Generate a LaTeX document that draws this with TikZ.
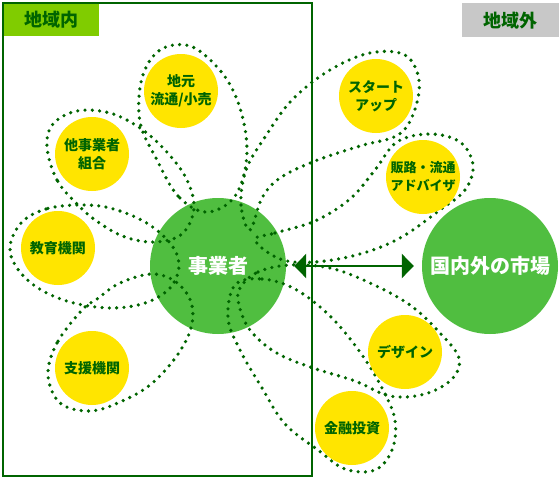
\documentclass[tikz,border=0pt]{standalone}
\usepackage{fontspec}
\newfontfamily\jp{Noto Sans CJK JP}
\usetikzlibrary{arrows.meta}
\definecolor{dgreen}{RGB}{0,100,0}
\definecolor{lgreen}{RGB}{80,190,64}
\definecolor{ylw}{RGB}{255,229,0}
\definecolor{tabgreen}{RGB}{128,204,0}
\definecolor{tabgray}{RGB}{200,200,200}
\tikzset{
  petal/.style={draw=dgreen, line width=3.6pt, line cap=round, dash pattern=on 0pt off 7.3pt},
  ycirc/.style={circle, fill=ylw, minimum size=74pt, inner sep=0pt, text=dgreen, align=center,
    font=\jp\bfseries\fontsize{14}{18}\selectfont},
  gcirc/.style={circle, fill=lgreen, minimum size=136pt, inner sep=0pt},
  gtext/.style={text=white, font=\jp\bfseries\fontsize{20}{24}\selectfont, inner sep=0pt},
  tab/.style={anchor=north west, inner sep=0pt, text=dgreen, font=\jp\bfseries\fontsize{18}{20}\selectfont},
  bothway/.style={draw=dgreen, line width=2.5pt, {Triangle[length=12pt,width=24pt]}-{Triangle[length=12pt,width=24pt]}, shorten <=8pt, shorten >=8pt}
}
\begin{document}
\begin{tikzpicture}[x=1pt,y=-1pt]
\fill[white] (0,0) rectangle (560,479);
\useasboundingbox (0,0) rectangle (560,479);
% tabs
\node[tab, fill=tabgreen, minimum width=96pt, minimum height=33pt] (tin) at (3,3) {地域内};
\node[tab, fill=tabgray, minimum width=97pt, minimum height=34pt] (tout) at (462,3) {地域外};
\draw[dgreen, line width=2pt] (3,3) rectangle (312,476);
% big circles
\node[gcirc] (biz) at (218,266) {};
\node[gcirc] (mkt) at (490,266) {};
% petals
\draw[petal] plot[smooth cycle, tension=0.6] coordinates {(205,212) (178,196) (157,160) (140,122) (142,78) (160,50) (190,46) (218,68) (236,97) (246,135) (245,170) (232,200)};
\draw[petal] plot[smooth cycle, tension=0.6] coordinates {(78,205) (57,180) (47,147) (53,124) (77,111) (110,113) (140,128) (165,150) (186,178) (194,208) (182,234) (155,242) (125,237) (98,222)};
\draw[petal] plot[smooth cycle, tension=0.6] coordinates {(78,205) (46,209) (22,222) (10,246) (17,268) (38,288) (70,302) (110,308) (145,303) (170,288) (179,265) (170,243) (145,222) (110,208)};
\draw[petal] plot[smooth cycle, tension=0.6] coordinates {(82,310) (57,343) (48,375) (60,403) (90,411) (120,402) (150,385) (176,357) (191,328) (191,302) (176,282) (152,274) (120,283) (97,299)};
\draw[petal] plot[smooth cycle, tension=0.6] coordinates {(250,230) (241,205) (246,170) (265,137) (292,100) (330,70) (370,53) (405,55) (419,80) (414,112) (398,135) (360,146) (315,161) (280,178) (262,198)};
\draw[petal] plot[smooth cycle, tension=0.6] coordinates {(255,240) (275,233) (315,221) (350,199) (375,170) (397,142) (430,134) (460,142) (473,165) (465,190) (440,210) (400,238) (360,254) (315,262) (280,259)};
\draw[petal] plot[smooth cycle, tension=0.6] coordinates {(240,288) (258,272) (290,265) (330,268) (370,283) (410,305) (440,333) (459,358) (452,379) (425,394) (390,396) (355,381) (310,367) (275,352) (250,330) (239,305)};
\draw[petal] plot[smooth cycle, tension=0.6] coordinates {(235,285) (262,279) (295,289) (330,316) (360,352) (382,388) (395,420) (392,450) (375,470) (345,469) (318,450) (285,424) (262,388) (240,350) (228,318)};
% yellow circles
\node[ycirc] (jimoto) at (181,91) {地元\\流通/小売};
\node[ycirc] (tajigyo) at (92,154) {他事業者\\組合};
\node[ycirc] (kyoiku) at (58,248) {教育機関};
\node[ycirc] (shien) at (92,368) {支援機関};
\node[ycirc] (startup) at (376,96) {スタート\\アップ};
\node[ycirc, font=\jp\bfseries\fontsize{13}{18}\selectfont] (hanro) at (423,177) {販路・流通\\アドバイザ};
\node[ycirc] (design) at (405,352) {デザイン};
\node[ycirc] (kinyu) at (352,428) {金融投資};
% texts on big circles
\node[gtext] (biztext) at (biz) {事業者};
\node[gtext] (mkttext) at (mkt) {国内外の市場};
% arrow
\draw[bothway] (biz.east) -- (mkt.west);
\end{tikzpicture}
\end{document}
